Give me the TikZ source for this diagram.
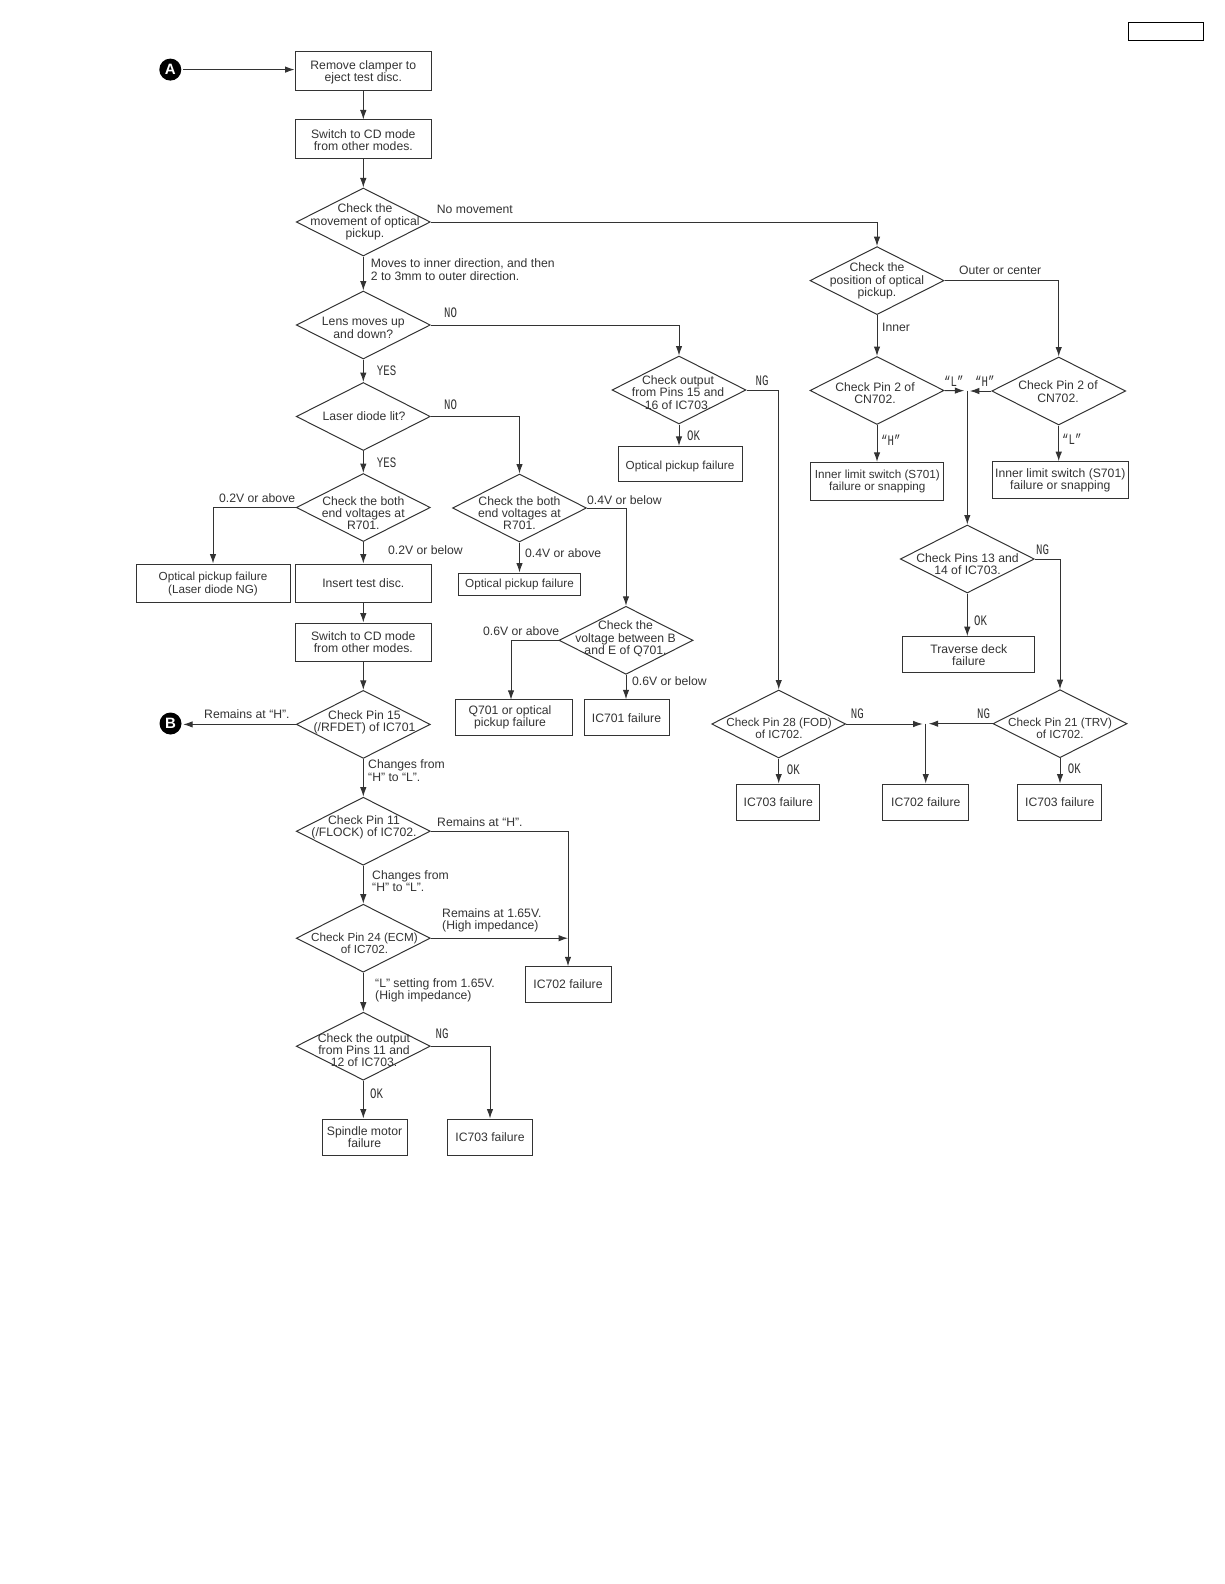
\documentclass[tikz,border=0pt]{standalone}
\usepackage{fontspec}
\setmainfont{Liberation Sans}
\newfontfamily\narrowfont[FakeStretch=0.74]{Liberation Mono}
\usetikzlibrary{shapes.geometric,arrows.meta}
\definecolor{ink}{gray}{0.2}
\tikzset{
  basetext/.style={font=\fontsize{12.2}{12.3}\selectfont, text=ink, align=center},
  snug/.style={font=\fontsize{11.7}{12.3}\selectfont},
  boxnode/.style={draw=ink, line width=1pt, rectangle, inner sep=0pt, basetext},
  dia/.style={draw=ink, line width=1pt, diamond, inner sep=0pt, minimum width=134pt, minimum height=68pt},
  dt/.style={basetext},
  lab/.style={basetext, anchor=west, inner sep=0pt, align=left},
  tagtext/.style={anchor=west, inner sep=0pt, text=ink, font=\narrowfont\fontsize{14.5}{15}\selectfont},
  conn/.style={draw=ink, line width=1pt, -{Latex[length=9.5pt,width=6.5pt]}},
  discmark/.style={circle, fill=black, text=white, inner sep=0pt, minimum size=22pt, font=\bfseries\fontsize{15}{15}\selectfont}
}
\begin{document}
\begin{tikzpicture}[x=1pt,y=-1pt]
\useasboundingbox (0,0) rectangle (1224,1584);
% corner box
\node[draw=black, line width=0.9pt, minimum width=75pt, minimum height=18.5pt, inner sep=0pt] (corner) at (1165.5,31.5) {};
% markers
\node[discmark] (A) at (170.3,69.6) {A};
\node[discmark] (B) at (170.5,723.5) {B};
% left column
\node[boxnode, minimum width=136.5pt, minimum height=38.5pt, label={[name=b1t,basetext,yshift=-1.5pt]center:{Remove clamper to\\eject test disc.}}] (b1) at (363.3,70.8) {};
\node[boxnode, minimum width=136.5pt, minimum height=38pt, label={[name=b2t,basetext,yshift=-1pt]center:{Switch to CD mode\\from other modes.}}] (b2) at (363.3,139) {};
\node[dia] (d1) at (363.3,222) {};
\node[dt] (d1t) at (365,222) {Check the\\movement of optical\\pickup.};
\node[dia] (d2) at (363.3,325) {};
\node[dt] (d2t) at (363.3,328) {Lens moves up\\and down?};
\node[dia] (d3) at (363.3,416.5) {};
\node[dt] (d3t) at (364,416) {Laser diode lit?};
\node[dia] (d4) at (363.3,507.5) {};
\node[dt] (d4t) at (363.3,513) {Check the both\\end voltages at\\R701.};
\node[boxnode, minimum width=154pt, minimum height=38pt, label={[name=lasert,basetext,snug,yshift=-1pt]center:{Optical pickup failure\\(Laser diode NG)}}] (laser) at (213,583) {};
\node[boxnode, minimum width=136pt, minimum height=38pt] (ins) at (363.3,583) {Insert test disc.};
\node[boxnode, minimum width=136pt, minimum height=38pt] (b3) at (363.3,642) {Switch to CD mode\\from other modes.};
\node[dia] (d5) at (363.3,724.4) {};
\node[dt] (d5t) at (364.5,722.5) {Check Pin 15\\(/RFDET) of IC701};
\node[dia] (d6) at (363.3,831.2) {};
\node[dt] (d6t) at (364,827.5) {Check Pin 11\\(/FLOCK) of IC702.};
\node[dia] (d7) at (363.3,938.2) {};
\node[dt,snug] (d7t) at (364.5,943) {Check Pin 24 (ECM)\\of IC702.};
\node[dia] (d8) at (363.3,1046.2) {};
\node[dt] (d8t) at (364,1050) {Check the output\\from Pins 11 and\\12 of IC703.};
\node[boxnode, minimum width=85pt, minimum height=36pt] (spin) at (364.5,1137) {Spindle motor\\failure};
\node[boxnode, minimum width=85pt, minimum height=36pt] (ic3a) at (490,1137) {IC703 failure};
\node[boxnode, minimum width=86pt, minimum height=35.5pt] (ic2a) at (568,984.5) {IC702 failure};
% middle column
\node[dia] (d9) at (519.5,508) {};
\node[dt] (d9t) at (519.5,513) {Check the both\\end voltages at\\R701.};
\node[boxnode, minimum width=121.5pt, minimum height=22pt, snug] (opt1) at (519.5,584) {Optical pickup failure};
\node[dia] (d10) at (626,640.3) {};
\node[dt] (d10t) at (625.5,639) {Check the\\voltage between B\\and E of Q701.};
\node[boxnode, minimum width=117pt, minimum height=35.5pt, label={[name=q701t,basetext,xshift=-4pt]center:{Q701 or optical\\pickup failure}}] (q701) at (514,717.5) {};
\node[boxnode, minimum width=85pt, minimum height=35.5pt, label={[name=ic1t,basetext,yshift=-1pt]center:{IC701 failure}}] (ic1) at (626.5,717.5) {};
\node[dia] (d11) at (679,390) {};
\node[dt] (d11t) at (678,392.5) {Check output\\from Pins 15 and\\16 of IC703.};
\node[boxnode, minimum width=124pt, minimum height=35.5pt, label={[name=opt2t,basetext,snug,yshift=-2pt]center:{Optical pickup failure}}] (opt2) at (680,464.2) {};
% right part
\node[dia] (d12) at (877,280.6) {};
\node[dt] (d12t) at (877,281) {Check the\\position of optical\\pickup.};
\node[dia] (d13) at (877,390.5) {};
\node[dt] (d13t) at (875,393) {Check Pin 2 of\\CN702.};
\node[dia] (d14) at (1058.7,391) {};
\node[dt] (d14t) at (1058,391.5) {Check Pin 2 of\\CN702.};
\node[boxnode, minimum width=132.7pt, minimum height=37.7pt, snug] (sw1) at (877.3,481.2) {Inner limit switch (S701)\\failure or snapping};
\node[boxnode, minimum width=136pt, minimum height=36.6pt] (sw2) at (1060.3,480) {Inner limit switch (S701)\\failure or snapping};
\node[dia] (d15) at (967.3,559) {};
\node[dt] (d15t) at (967.5,564) {Check Pins 13 and\\14 of IC703.};
\node[boxnode, minimum width=132.3pt, minimum height=36.3pt] (trav) at (968.8,654.8) {Traverse deck\\failure};
\node[dia] (d16) at (778.7,724) {};
\node[dt,snug] (d16t) at (779,728) {Check Pin 28 (FOD)\\of IC702.};
\node[dia] (d17) at (1060,723.7) {};
\node[dt,snug] (d17t) at (1060,728) {Check Pin 21 (TRV)\\of IC702.};
\node[boxnode, minimum width=83.3pt, minimum height=36pt] (ic3b) at (778.3,802) {IC703 failure};
\node[boxnode, minimum width=85.7pt, minimum height=36pt] (ic2b) at (925.8,802) {IC702 failure};
\node[boxnode, minimum width=83.7pt, minimum height=36pt] (ic3c) at (1059.8,802) {IC703 failure};
% free ends
\coordinate (j1) at (967.3,390.7);
\coordinate (j2) at (925.7,723.5);
\coordinate (j3) at (568,938.2);
\coordinate (q) at (511,699.75);
% connectors
\draw[conn,shorten <=1.5pt] (A) -- (A -| b1.west);
\draw[conn] (b1) -- (b2);
\draw[conn] (b2) -- (d1);
\draw[conn] (d1) -- (d2);
\draw[conn] (d2) -- (d3);
\draw[conn] (d3) -- (d4);
\draw[conn] (d4) -- (ins);
\draw[conn] (ins) -- (b3);
\draw[conn] (b3) -- (d5);
\draw[conn] (d5) -- (d6);
\draw[conn] (d6) -- (d7);
\draw[conn] (d7) -- (d8);
\draw[conn] (d8.south) -- (d8.south |- spin.north);
\draw[conn] (d8.east) -| (ic3a.north);
\draw[conn] (d6.east) -| (ic2a.north);
\draw[conn] (d7.east) -- (j3);
\draw[conn,shorten >=1.5pt] (d5.west) -- (d5.west -| B.east);
\draw[conn] (d4.west) -| (laser.north);
\draw[conn] (d1.east) -| (d12.north);
\draw[conn] (d2.east) -| (d11.north);
\draw[conn] (d3.east) -| (d9.north);
\draw[conn] (d9) -- (opt1);
\draw[conn] (d9.east) -| (d10.north);
\draw[conn] (d10.west) -| (q);
\draw[conn] (d10.south) -- (d10.south |- ic1.north);
\draw[conn] (d11.south) -- (d11.south |- opt2.north);
\draw[conn] (d11.east) -| (d16.north);
\draw[conn] (d12) -- (d13);
\draw[conn] (d12.east) -| (d14.north);
\draw[conn] (d13.south) -- (d13.south |- sw1.north);
\draw[conn] (d14.south) -- (d14.south |- sw2.north);
\draw[conn,shorten >=3pt] (d13.east) -- (j1);
\draw[conn,shorten >=2.5pt] (d14.west) -- (d14.west -| j1);
\draw[conn] (j1) -- (d15.north);
\draw[conn] (d15.south) -- (d15.south |- trav.north);
\draw[conn] (d15.east) -| (d17.north);
\draw[conn] (d16.south) -- (d16.south |- ic3b.north);
\draw[conn] (d17.south) -- (d17.south |- ic3c.north);
\draw[conn,shorten >=3pt] (d16.east) -- (d16.east -| j2);
\draw[conn,shorten >=3pt] (d17.west) -- (d17.west -| j2);
\draw[conn] (j2) -- (j2 |- ic2b.north);
% labels
\node[lab] (t1) at (436.7,209) {No movement};
\node[lab] (t2) at (370.7,269.5) {Moves to inner direction, and then\\2 to 3mm to outer direction.};
\node[lab] (t3) at (219,498) {0.2V or above};
\node[lab] (t4) at (388,550.5) {0.2V or below};
\node[lab] (t5) at (587,500) {0.4V or below};
\node[lab] (t6) at (525,553.5) {0.4V or above};
\node[lab] (t7) at (483,631) {0.6V or above};
\node[lab] (t8) at (632,681) {0.6V or below};
\node[lab] (t9) at (204,714) {Remains at “H”.};
\node[lab] (t10) at (368,770.5) {Changes from\\“H” to “L”.};
\node[lab] (t11) at (437,822) {Remains at “H”.};
\node[lab] (t12) at (372,881) {Changes from\\“H” to “L”.};
\node[lab] (t13) at (442,920.5) {Remains at 1.65V.\\(High impedance)};
\node[lab] (t14) at (375,990) {“L” setting from 1.65V.\\(High impedance)};
\node[lab] (t15) at (959,270.7) {Outer or center};
\node[lab] (t16) at (882,327) {Inner};
\node[tagtext] (g1) at (444,312.7) {NO};
\node[tagtext] (g2) at (444,404.7) {NO};
\node[tagtext] (g3) at (376.7,371) {YES};
\node[tagtext] (g4) at (376.7,462.7) {YES};
\node[tagtext] (g5) at (435.5,1034) {NG};
\node[tagtext] (g6) at (370,1094) {OK};
\node[tagtext] (g7) at (755.5,381) {NG};
\node[tagtext] (g8) at (687,435.5) {OK};
\node[tagtext] (g9) at (944,381) {“L”};
\node[tagtext] (g10) at (975,381) {“H”};
\node[tagtext] (g11) at (881,440) {“H”};
\node[tagtext] (g12) at (1062,439) {“L”};
\node[tagtext] (g13) at (1036,550) {NG};
\node[tagtext] (g14) at (974,620.7) {OK};
\node[tagtext] (g15) at (850.7,714) {NG};
\node[tagtext] (g16) at (977,714) {NG};
\node[tagtext] (g17) at (786.7,770) {OK};
\node[tagtext] (g18) at (1067.7,769) {OK};
\end{tikzpicture}
\end{document}
